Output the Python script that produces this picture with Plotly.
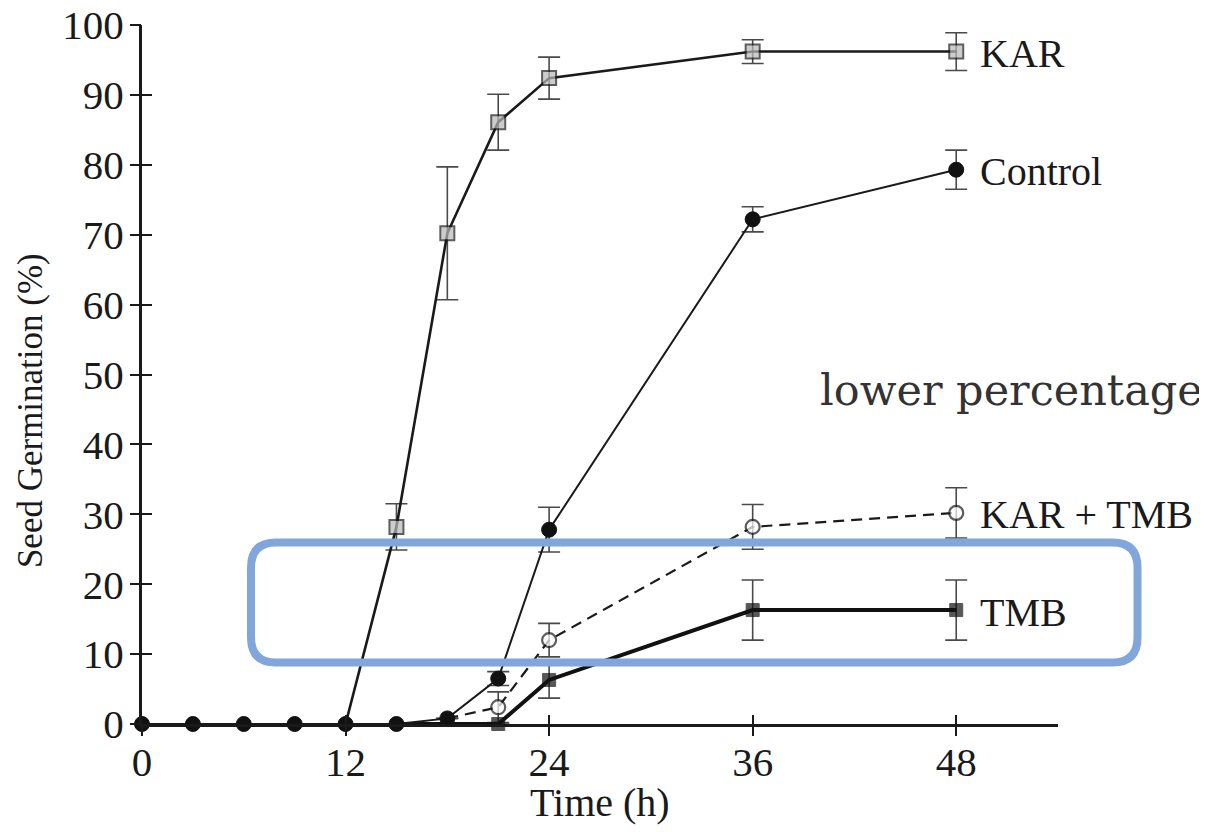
import plotly.graph_objects as go

# ---------------- data ----------------
control_t = [0, 3, 6, 9, 12, 15, 18, 21, 24, 36, 48]
control_v = [0, 0, 0, 0, 0, 0, 0.8, 6.5, 27.8, 72.2, 79.3]
control_e = [None, None, None, None, None, None, None, 1.0, 3.2, 1.8, 2.8]

kar_t = [12, 15, 18, 21, 24, 36, 48]
kar_v = [0, 28.2, 70.2, 86.1, 92.4, 96.2, 96.2]
kar_e = [None, 3.3, 9.5, 4.0, 3.0, 1.7, 2.7]

kartmb_t = [18, 21, 24, 36, 48]
kartmb_v = [0.8, 2.4, 12.0, 28.2, 30.2]
kartmb_e = [None, 2.2, 2.4, 3.2, 3.6]

tmb_t = [15, 18, 21, 24, 36, 48]
tmb_v = [0, 0, 0, 6.3, 16.3, 16.3]
tmb_e = [None, None, None, 2.6, 4.3, 4.3]

labels = ["KAR", "Control", "KAR + TMB", "TMB"]
x_ticks = [0, 12, 24, 36, 48]
y_ticks = list(range(0, 101, 10))

# ---------------- style ----------------
SERIF = "Liberation Serif, Times New Roman, serif"
INK = "#1a1a1a"
ERR = "#4a4a4a"

fig = go.Figure()

# error bars first (beneath lines and markers)
for xs, ys, es in [(kar_t, kar_v, kar_e), (kartmb_t, kartmb_v, kartmb_e),
                   (tmb_t, tmb_v, tmb_e), (control_t, control_v, control_e)]:
    fig.add_trace(go.Scatter(
        x=xs, y=ys, mode="markers", cliponaxis=False, hoverinfo="skip",
        marker=dict(size=1, color="rgba(0,0,0,0)"),
        error_y=dict(type="data", array=es, visible=True, color=ERR, thickness=1.6, width=11),
    ))

fig.add_trace(go.Scatter(
    x=kar_t, y=kar_v, mode="lines+markers", cliponaxis=False,
    line=dict(color=INK, width=2.6),
    marker=dict(symbol="square", size=[0 if v == 0 else 14 for v in kar_v],
                color="#b9b9b9", line=dict(color=INK, width=2)),
))
fig.add_trace(go.Scatter(
    x=kartmb_t, y=kartmb_v, mode="lines+markers", cliponaxis=False,
    line=dict(color=INK, width=2.2, dash="11px,7px"),
    marker=dict(symbol="circle", size=[0] + [14] * (len(kartmb_t) - 1),
                color="white", line=dict(color=INK, width=2.2)),
))
fig.add_trace(go.Scatter(
    x=tmb_t, y=tmb_v, mode="lines+markers", cliponaxis=False,
    line=dict(color="#111111", width=4),
    marker=dict(symbol="square", size=[0 if t < 21 else 13 for t in tmb_t],
                color="#111111", line=dict(color="#111111", width=1)),
))
fig.add_trace(go.Scatter(
    x=control_t, y=control_v, mode="lines+markers", cliponaxis=False,
    line=dict(color=INK, width=2),
    marker=dict(symbol="circle", size=15, color="#111111", line=dict(color="#111111", width=1)),
))

# series labels at the last point of each series
for name, xs, ys in zip(labels, [kar_t, control_t, kartmb_t, tmb_t], [kar_v, control_v, kartmb_v, tmb_v]):
    fig.add_annotation(x=xs[-1], y=ys[-1], text=name, showarrow=False, xanchor="left",
                       yanchor="middle", xshift=22, yshift=-2,
                       font=dict(family=SERIF, size=40, color=INK))

# axis titles
fig.add_annotation(xref="paper", yref="paper", x=-0.1223, y=0.449, text="Seed Germination (%)",
                   textangle=-90, showarrow=False, xanchor="center", yanchor="middle",
                   font=dict(family=SERIF, size=35, color=INK))
fig.add_annotation(xref="paper", yref="paper", x=0.5, y=-0.112, text="Time (h)",
                   showarrow=False, xanchor="center", yanchor="middle",
                   font=dict(family=SERIF, size=40, color=INK))

# overlay note
fig.add_annotation(xref="paper", yref="paper", x=0.9487, y=0.478, text="lower percentage",
                   showarrow=False, xanchor="center", yanchor="middle",
                   font=dict(family="DejaVu Serif, serif", size=43, color="#333333"))

# rounded highlight box (paper coords)
x0, x1, y0, y1 = 0.119, 1.0868, 0.088, 0.2597
rx, ry = 0.0273, 0.0358
path = (f"M {x0+rx},{y1} L {x1-rx},{y1} Q {x1},{y1} {x1},{y1-ry} "
        f"L {x1},{y0+ry} Q {x1},{y0} {x1-rx},{y0} L {x0+rx},{y0} "
        f"Q {x0},{y0} {x0},{y0+ry} L {x0},{y1-ry} Q {x0},{y1} {x0+rx},{y1} Z")
fig.add_shape(type="path", xref="paper", yref="paper", path=path,
              line=dict(color="#80a6dc", width=8), fillcolor="rgba(0,0,0,0)", layer="above")

axis_common = dict(showgrid=False, zeroline=False, automargin=False)
fig.update_layout(
    width=1207, height=832,
    margin=dict(l=134, r=157, t=17, b=116, autoexpand=False),
    paper_bgcolor="white", plot_bgcolor="white",
    showlegend=False,
    xaxis=dict(range=[0, 54], tickvals=x_ticks, ticktext=[str(v) for v in x_ticks],
               ticks="inside", ticklen=9, tickwidth=1.6, tickcolor=INK,
               showline=True, linecolor=INK, linewidth=3, ticklabeloverflow="allow",
               tickfont=dict(family=SERIF, size=41, color=INK), **axis_common),
    yaxis=dict(range=[0, 100], tickvals=y_ticks, ticktext=[str(v) for v in y_ticks],
               ticks="inside", ticklen=10, tickwidth=1.6, tickcolor=INK,
               showline=True, linecolor=INK, linewidth=3, ticklabelstandoff=7,
               ticklabeloverflow="allow",
               tickfont=dict(family=SERIF, size=41, color=INK), **axis_common),
    xaxis2=dict(range=[0, 54], overlaying="x", anchor="y", side="bottom", tickvals=x_ticks,
                ticks="outside", ticklen=11, tickwidth=1.6, tickcolor=INK,
                showticklabels=False, showline=False, **axis_common),
    yaxis2=dict(range=[0, 100], overlaying="y", anchor="x", side="left", tickvals=y_ticks,
                ticks="outside", ticklen=11, tickwidth=1.6, tickcolor=INK,
                showticklabels=False, showline=False, **axis_common),
)
# invisible trace to activate overlay axes
fig.add_trace(go.Scatter(x=[None], y=[None], xaxis="x2", yaxis="y2", showlegend=False, hoverinfo="skip"))

fig.write_html("out.html")
